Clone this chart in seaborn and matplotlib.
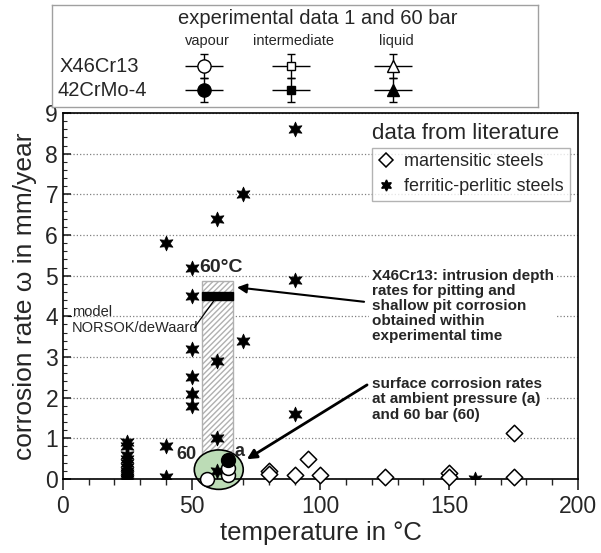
import numpy as np
import pandas as pd
import matplotlib
matplotlib.use('Agg')
import matplotlib.pyplot as plt
from matplotlib.patches import Rectangle, Ellipse
from matplotlib.lines import Line2D
import seaborn as sns

# literature data: ferritic-perlitic steels (stars)
ferr_temp = [25, 25, 25, 25, 25, 25, 25, 25, 25, 25, 25,
             40, 40, 40,
             50, 50, 50, 50, 50, 50,
             60, 60, 60, 60,
             70, 70,
             90, 90, 90,
             160]
ferr_rate = [0.9, 0.8, 0.6, 0.5, 0.4, 0.3, 0.2, 0.15, 0.1, 0.05, 0.0,
             5.8, 0.8, 0.05,
             5.2, 4.5, 3.2, 2.5, 2.1, 1.8,
             6.4, 2.9, 1.0, 0.2,
             7.0, 3.4,
             8.6, 4.9, 1.6,
             0.0]

# literature data: martensitic steels (diamonds)
mart_temp = [80, 80, 90, 95, 100, 125, 150, 150, 175, 175]
mart_rate = [0.2, 0.12, 0.1, 0.5, 0.1, 0.05, 0.15, 0.05, 1.13, 0.05]

# own experiments (inside the green ellipse)
x46_temp = [56, 64, 64]
x46_rate = [0.0, 0.1, 0.27]
crmo_temp = [64]
crmo_rate = [0.46]

# model / pit depth values at 60 C
model_rate = 4.5
pit_rate_max = 4.87

sns.set_style("white")
plt.rcParams['font.family'] = ['Liberation Sans', 'DejaVu Sans']
plt.rcParams['hatch.color'] = '#cccccc'

fig = plt.figure(figsize=(6.01, 5.53), dpi=100)
ax = fig.add_axes([0.1048, 0.1338, 0.8569, 0.6619])

ferr = pd.DataFrame({'T': ferr_temp, 'rate': ferr_rate})
mart = pd.DataFrame({'T': mart_temp, 'rate': mart_rate})

# hatched band: pit depth rates within experimental time
ax.add_patch(Rectangle((54, 0), 12, pit_rate_max, facecolor='white',
                       edgecolor='#b0b0b0', hatch='//////', lw=1.0, zorder=1))
ax.add_patch(Rectangle((54, model_rate - 0.09), 12, 0.18, facecolor='black',
                       edgecolor='black', zorder=3))

ax.add_patch(Ellipse((60.5, 0.23), 19, 0.97, facecolor='#bcdcb6',
                     edgecolor='black', lw=1.2, zorder=2, clip_on=False))

sns.scatterplot(data=ferr, x='T', y='rate', marker=(6, 1, 0), s=115,
                color='black', edgecolor='black', linewidth=0.5, ax=ax, zorder=4)
sns.scatterplot(data=mart, x='T', y='rate', marker='D', s=70,
                facecolor='white', edgecolor='black', linewidth=1.1, ax=ax, zorder=4,
                clip_on=False)

ax.scatter(x46_temp, x46_rate, marker='o', s=100, facecolor='white',
           edgecolor='black', linewidth=1.1, zorder=5, clip_on=False)
ax.scatter(crmo_temp, crmo_rate, marker='o', s=100, facecolor='black',
           edgecolor='black', zorder=5)

ax.set_xlim(0, 200)
ax.set_ylim(0, 9)
ax.set_xticks([0, 50, 100, 150, 200])
ax.set_xticks(np.arange(0, 201, 10), minor=True)
ax.set_yticks(range(0, 10))
ax.set_yticks(np.arange(0, 9.01, 0.2), minor=True)
ax.tick_params(axis='x', which='major', direction='out', length=8, width=1.2, labelsize=16.5)
ax.tick_params(axis='x', which='minor', direction='out', length=4, width=1.0)
ax.tick_params(axis='y', which='major', direction='in', length=6, width=1.2, labelsize=16.5)
ax.tick_params(axis='y', which='minor', direction='in', length=3, width=0.8)
ax.tick_params(bottom=True, left=True, which='both')
ax.yaxis.grid(True, linestyle=':', color='#808080', lw=0.9)
ax.set_axisbelow(True)
for sp in ax.spines.values():
    sp.set_linewidth(1.2)
    sp.set_color('black')

ax.set_xlabel('temperature in °C', fontsize=18.5, labelpad=2)
ax.set_ylabel('corrosion rate ω in mm/year', fontsize=19, labelpad=6)

# literature legend
ax.text(120, 8.5, 'data from literature', fontsize=16, va='center', ha='left', zorder=6)
handles = [Line2D([], [], marker='D', ls='none', mfc='white', mec='black', ms=7, mew=1.1),
           Line2D([], [], marker=(6, 1, 0), ls='none', color='black', ms=8)]
leg = ax.legend(handles, ['martensitic steels', 'ferritic-perlitic steels'],
                loc='upper left', bbox_to_anchor=(0.6, 0.905), fontsize=13,
                frameon=True, fancybox=False, edgecolor='#a0a0a0',
                handletextpad=0.5, borderpad=0.3, labelspacing=0.45,
                handlelength=1.0, borderaxespad=0)
leg.get_frame().set_linewidth(1.0)

# annotations
ax.text(53, 5.2, '60°C', fontsize=14, fontweight='bold', va='center', ha='left', zorder=6)
ax.text(3.5, 4.1, 'model', fontsize=10.5, va='center', ha='left')
ax.text(3.5, 3.72, 'NORSOK/deWaard', fontsize=10.5, va='center', ha='left')
ax.plot([51, 59], [3.72, 4.42], color='black', lw=0.9, zorder=5)
ax.plot([2.0, 3.3], [4.02, 4.02], color='black', lw=0.8)

ax.text(120, 5.17, 'X46Cr13: intrusion depth\nrates for pitting and\nshallow pit corrosion\n'
        'obtained within\nexperimental time', fontsize=11, fontweight='bold',
        va='top', ha='left', linespacing=1.1,
        bbox=dict(facecolor='white', edgecolor='none', pad=2), zorder=6)
ax.annotate('', xy=(66.5, 4.72), xytext=(118, 4.35),
            arrowprops=dict(arrowstyle='-|>', color='black', lw=1.5, mutation_scale=14), zorder=6)

ax.text(120, 2.5, 'surface corrosion rates\nat ambient pressure (a)\nand 60 bar (60)',
        fontsize=11, fontweight='bold', va='top', ha='left', linespacing=1.1,
        bbox=dict(facecolor='white', edgecolor='none', pad=2), zorder=6)
ax.annotate('', xy=(70.5, 0.45), xytext=(119, 2.35),
            arrowprops=dict(arrowstyle='-|>', color='black', lw=2.0, mutation_scale=14), zorder=6)

ax.text(44, 0.6, '60', fontsize=13, fontweight='bold', va='center', ha='left', zorder=6)
ax.text(66.5, 0.68, 'a', fontsize=13, fontweight='bold', va='center', ha='left', zorder=6)

# experimental data legend box on top
lax = fig.add_axes([52 / 601, 1 - 107 / 553, 486 / 601, 102 / 553])
lax.set_xlim(52, 538)
lax.set_ylim(107, 5)
lax.set_xticks([])
lax.set_yticks([])
for sp in lax.spines.values():
    sp.set_color('#a0a0a0')
    sp.set_linewidth(1.0)

lax.text(318, 19, 'experimental data 1 and 60 bar', fontsize=14.5, ha='center', va='center')
cols = ['vapour', 'intermediate', 'liquid']
col_x = [204, 291, 393]
col_marker = ['o', 's', '^']
col_ms = [9.5, 5.5, 8.5]
for name, cx, mk, ms in zip(cols, col_x, col_marker, col_ms):
    lax.text(cx + 3, 41, name, fontsize=10.5, ha='center', va='center')
    for cy, fc in [(66, 'white'), (90, 'black')]:
        lax.errorbar([cx], [cy], xerr=19, fmt='none', ecolor='black', lw=1.0, capsize=0)
        lax.errorbar([cx], [cy], yerr=12, marker=mk, ms=ms, mfc=fc,
                     mec='black', color='black', capsize=3, lw=1.0, mew=1.0)
lax.text(99, 67, 'X46Cr13', fontsize=14.5, ha='center', va='center')
lax.text(102, 90, '42CrMo-4', fontsize=14.5, ha='center', va='center')

fig.savefig('out.png', dpi=100)
